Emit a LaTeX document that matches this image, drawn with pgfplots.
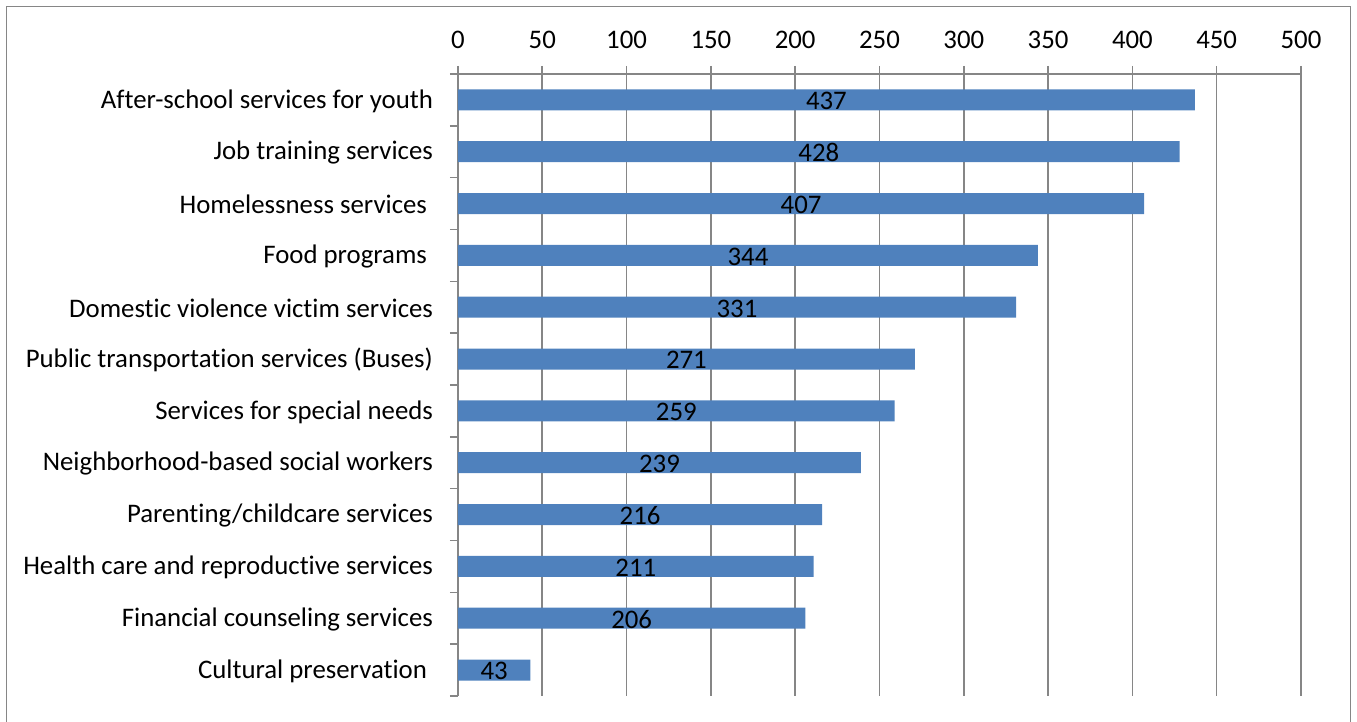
\documentclass[border=0pt]{standalone}
\usepackage{fontspec}
\setmainfont[Ligatures=NoCommon]{Carlito}
\usepackage{pgfplots}
\usepackage{pgfplotstable}
\pgfplotsset{compat=1.18}
\definecolor{barblue}{HTML}{4F81BD}
\definecolor{gridgray}{HTML}{868686}

% pos 11 = top row
\pgfplotstableread[col sep=comma]{
pos,value
11,437
10,428
9,407
8,344
7,331
6,271
5,259
4,239
3,216
2,211
1,206
0,43
}\servicedata

\begin{document}
\begin{tikzpicture}
\useasboundingbox (0pt,0pt) rectangle (678.5pt,361pt);
\draw[gridgray, line width=0.8pt] (3.3pt,-5pt) -- (3.3pt,357.7pt) -- (675.3pt,357.7pt) -- (675.3pt,-5pt);
\begin{axis}[
    at={(229pt,13pt)}, anchor=south west,
    scale only axis,
    width=421.5pt, height=311pt,
    xmin=0, xmax=500, ymin=-0.5, ymax=11.5,
    axis x line=top, axis y line=left,
    axis line style={gridgray, line width=0.8pt, -},
    xtick={0,50,...,500},
    xmajorgrids,
    grid style={gridgray, line width=0.8pt},
    ytick={-0.5,0.5,...,11.5},
    yticklabels={},
    extra y ticks={0,1,...,11},
    extra y tick labels={Cultural preservation\kern3pt, Financial counseling services, Health care and reproductive services, Parenting/childcare services, Neighborhood-based social workers, Services for special needs, Public transportation services (Buses), Domestic violence victim services, Food programs\kern3pt, Homelessness services\kern3pt, Job training services, After-school services for youth},
    extra y tick style={major tick length=0pt, grid=none},
    tick align=outside,
    major tick length=4pt,
    tick style={gridgray, line width=0.8pt},
    tick label style={font=\fontsize{13.4}{15}\selectfont, black},
    yticklabel style={xshift=-9pt, yshift=-0.6pt},
    xticklabel style={yshift=5pt},
    /pgf/number format/assume math mode=true,
]
\addplot[xbar, bar width=10.5pt, fill=barblue, draw=none] table[x=value, y=pos] {\servicedata};
\addplot[draw=none, mark=none, nodes near coords, point meta=explicit,
    every node near coord/.append style={anchor=center, yshift=-0.6pt, font=\fontsize{13.4}{15}\selectfont, black}]
    table[x expr=\thisrow{value}/2, y=pos, meta=value] {\servicedata};
\end{axis}
\end{tikzpicture}
\end{document}
